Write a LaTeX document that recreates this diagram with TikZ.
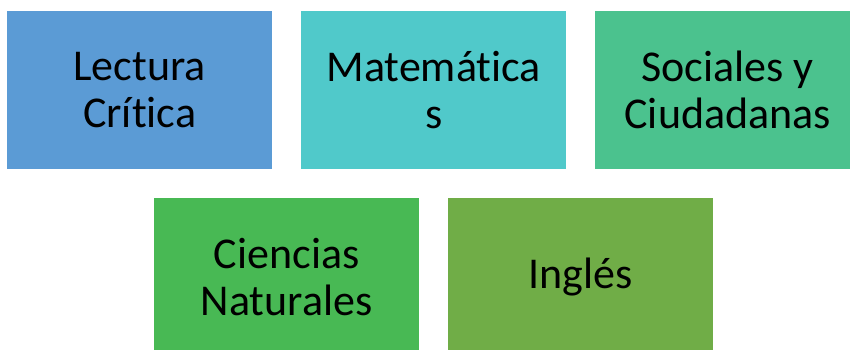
\documentclass[tikz,border=0pt]{standalone}
\usepackage{fontspec}
\setmainfont{Carlito}[Ligatures={NoCommon,NoRare,NoDiscretionary}]
\definecolor{cA}{HTML}{5B9BD5}
\definecolor{cB}{HTML}{50C9CA}
\definecolor{cC}{HTML}{4BC28E}
\definecolor{cD}{HTML}{48B954}
\definecolor{cE}{HTML}{70AD47}
\tikzset{
  subj/.style={rectangle, fill=#1, draw=none, minimum width=265pt, minimum height=158pt,
    inner sep=0pt, align=center, text=black, font=\fontsize{44}{47}\selectfont, anchor=north west}
}
\begin{document}
\begin{tikzpicture}[x=1pt,y=-1pt]
\useasboundingbox (0,0) rectangle (850,350);
\clip (0,0) rectangle (850,350);
\node[subj=cA] (lc) at (7,11) {Lectura\\Crítica};
\node[subj=cB] (ma) at (301,11) {Matemática\\s};
\node[subj=cC] (sc) at (595,11) {Sociales y\\Ciudadanas};
\node[subj=cD] (cn) at (154,198) {Ciencias\\Naturales};
\node[subj=cE] (in) at (448,198) {Inglés};
\end{tikzpicture}
\end{document}
